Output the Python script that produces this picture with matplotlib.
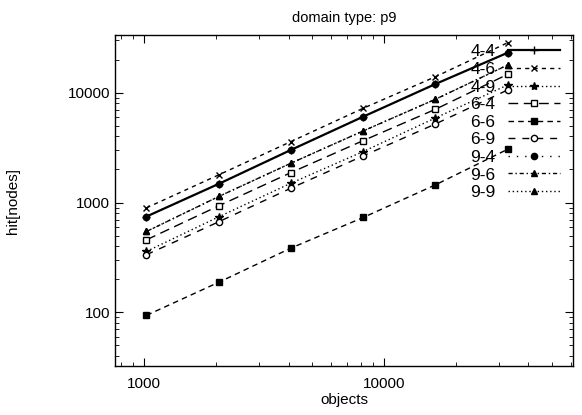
import matplotlib.pyplot as plt
from matplotlib.ticker import NullFormatter

plt.rcParams['font.family'] = ['Liberation Sans', 'DejaVu Sans']

objects = [1024, 2048, 4096, 8192, 16384, 32768]

hit_4_4 = [746, 1479, 3013, 6050, 11990, 23100]
hit_4_6 = [895, 1786, 3590, 7210, 13970, 28500]
hit_4_9 = [359, 741, 1500, 2912, 5890, 11750]
hit_6_4 = [458, 933, 1874, 3663, 7060, 14700]
hit_6_6 = [94, 188, 385, 731, 1449, 3055]
hit_6_9 = [335, 668, 1352, 2661, 5190, 10590]
hit_9_4 = [746, 1479, 3013, 6050, 11990, 23100]
hit_9_6 = [545, 1135, 2282, 4486, 8710, 17870]
hit_9_9 = [545, 1135, 2282, 4486, 8710, 17870]

labels = ['4-4', '4-6', '4-9', '6-4', '6-6', '6-9', '9-4', '9-6', '9-9']
series = [hit_4_4, hit_4_6, hit_4_9, hit_6_4, hit_6_6, hit_6_9, hit_9_4, hit_9_6, hit_9_9]

# gnuplot-ish line/point styles
styles = [
    dict(ls='-', marker='+', lw=1.6, ms=6),
    dict(ls=(0, (3, 3)), marker='x', ms=5),
    dict(ls=(0, (1, 2)), marker='*', ms=6),
    dict(ls=(0, (7, 4)), marker='s', mfc='white', ms=4.5),
    dict(ls=(0, (4, 3)), marker='s', ms=4.5),
    dict(ls=(0, (5, 5)), marker='o', mfc='white', ms=4.5),
    dict(ls=(0, (1, 5)), marker='o', ms=4.5),
    dict(ls=(0, (3, 2, 1, 2)), marker='^', ms=5),
    dict(ls=(0, (1, 2)), marker='^', ms=4.5),
]

fig = plt.figure(figsize=(5.82, 4.15), dpi=100)
ax = fig.add_axes([0.1976, 0.118, 0.7869, 0.7977])

for lab, vals, st in zip(labels, series, styles):
    kw = dict(color='black', lw=1.0, mec='black')
    kw.update(st)
    ax.plot(objects, vals, label=lab, **kw)

ax.set_xscale('log')
ax.set_yscale('log')
ax.set_xlim(757, 61300)
ax.set_ylim(32.5, 33500)

ax.set_xticks([1000, 10000])
ax.set_xticklabels(['1000', '10000'])
ax.set_yticks([100, 1000, 10000])
ax.set_yticklabels(['100', '1000', '10000'])
ax.xaxis.set_minor_formatter(NullFormatter())
ax.yaxis.set_minor_formatter(NullFormatter())
ax.tick_params(which='both', direction='in', top=True, right=True, labelsize=11)
ax.tick_params(which='major', length=6, width=0.8)
ax.tick_params(which='minor', length=3, width=0.6)
ax.tick_params(axis='x', pad=8)

for sp in ax.spines.values():
    sp.set_linewidth(1.0)

ax.set_title('domain type: p9', fontsize=10.5, pad=9)
ax.set_xlabel('objects', fontsize=11, labelpad=1)
ax.set_ylabel('hit[nodes]', fontsize=11, labelpad=34)

ax.legend(loc='upper right', bbox_to_anchor=(0.99, 0.998), frameon=False,
          markerfirst=False, fontsize=12.5, handlelength=3.0, handletextpad=0.7,
          labelspacing=0.14, borderpad=0, numpoints=1)

fig.savefig('out.png', dpi=100)
